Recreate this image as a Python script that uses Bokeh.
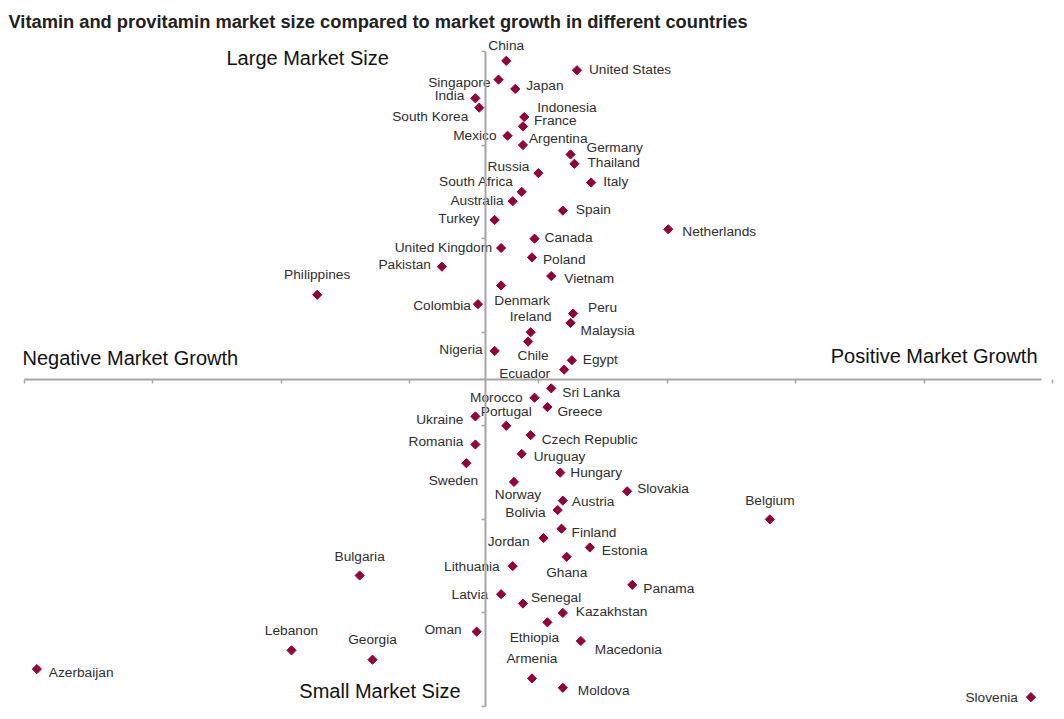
from bokeh.plotting import figure
from bokeh.models import (ColumnDataSource, Range1d, LinearAxis, FixedTicker, Label)
from bokeh.core.properties import value
from bokeh.embed import file_html
from bokeh.resources import INLINE

# ---------------------------------------------------------------- data
countries = [
    "China", "United States", "Singapore", "Japan", "India", "South Korea",
    "Indonesia", "France", "Mexico", "Argentina", "Germany", "Thailand",
    "Russia", "Italy", "South Africa", "Australia", "Spain", "Turkey",
    "Netherlands", "Canada", "United Kingdom", "Poland", "Pakistan", "Vietnam",
    "Denmark", "Philippines", "Colombia", "Peru", "Malaysia", "Ireland",
    "Chile", "Nigeria", "Egypt", "Ecuador",
    "Sri Lanka", "Morocco", "Greece", "Ukraine", "Portugal", "Czech Republic",
    "Romania", "Uruguay", "Sweden", "Hungary", "Norway", "Slovakia",
    "Austria", "Bolivia", "Belgium", "Finland", "Jordan", "Estonia",
    "Ghana", "Lithuania", "Bulgaria", "Panama", "Latvia", "Senegal",
    "Kazakhstan", "Ethiopia", "Oman", "Macedonia", "Lebanon", "Georgia",
    "Azerbaijan", "Armenia", "Moldova", "Slovenia",
]

# market growth (horizontal scale, tick every 1.0)
market_growth = [
    3.75, 4.30, 3.69, 3.82, 3.51, 3.54,
    3.89, 3.88, 3.76, 3.88, 4.25, 4.28,
    4.00, 4.41, 3.87, 3.80, 4.19, 3.66,
    5.01, 3.97, 3.71, 3.95, 3.25, 4.10,
    3.71, 2.28, 3.53, 4.27, 4.25, 3.94,
    3.92, 3.66, 4.26, 4.20,
    4.10, 3.97, 4.07, 3.51, 3.75, 3.94,
    3.51, 3.87, 3.44, 4.17, 3.81, 4.69,
    4.19, 4.15, 5.80, 4.18, 4.04, 4.40,
    4.22, 3.80, 2.61, 4.73, 3.71, 3.88,
    4.19, 4.07, 3.52, 4.33, 2.08, 2.71,
    0.10, 3.95, 4.19, 7.83,
]

# market size (vertical scale, tick every 1.0)
market_size = [
    6.9, 6.8, 6.7, 6.6, 6.5, 6.4,
    6.3, 6.2, 6.1, 6.0, 5.9, 5.8,
    5.7, 5.6, 5.5, 5.4, 5.3, 5.2,
    5.1, 5.0, 4.9, 4.8, 4.7, 4.6,
    4.5, 4.4, 4.3, 4.2, 4.1, 4.0,
    3.9, 3.8, 3.7, 3.6,
    3.4, 3.3, 3.2, 3.1, 3.0, 2.9,
    2.8, 2.7, 2.6, 2.5, 2.4, 2.3,
    2.2, 2.1, 2.0, 1.9, 1.8, 1.7,
    1.6, 1.5, 1.4, 1.3, 1.2, 1.1,
    1.0, 0.9, 0.8, 0.7, 0.6, 0.5,
    0.4, 0.3, 0.2, 0.1,
]

growth_ticks = [0, 1, 2, 3, 4, 5, 6, 7, 8]
size_ticks = [0, 1, 2, 3, 4, 5, 6, 7]
growth_crossing = 3.59   # where the size axis crosses the growth axis
size_crossing = 3.5      # where the growth axis crosses the size axis
growth_axis_end = 7.91

title_text = "Vitamin and provitamin market size compared to market growth in different countries"
quadrant_texts = ["Large Market Size", "Negative Market Growth",
                  "Positive Market Growth", "Small Market Size"]

# ------------------------------------------------------------- layout
W, H = 1064, 719
PX_X0, PX_PER_X = 23.5, 128.6     # canvas x of growth 0, pixels per unit
PY_Y0, PX_PER_Y = 706.0, 93.57    # canvas y of size 0, pixels per unit


def gx(px):
    return (px - PX_X0) / PX_PER_X


def gy(py):
    return (PY_Y0 - py) / PX_PER_Y


# label placement: (align, dx, dy) in screen pixels relative to the marker
placement = {
    "China": ("center", 0, -14), "United States": ("left", 12, 0),
    "Singapore": ("right", -8, 4), "Japan": ("left", 11, -2),
    "India": ("right", -11, -2), "South Korea": ("right", -11, 10),
    "Indonesia": ("left", 13, -9), "France": ("left", 11, -5),
    "Mexico": ("right", -11, 1), "Argentina": ("left", 6, -6),
    "Germany": ("left", 16, -6), "Thailand": ("left", 13, 0),
    "Russia": ("right", -9, -6), "Italy": ("left", 12, 0),
    "South Africa": ("right", -8, -9), "Australia": ("right", -9, 0),
    "Spain": ("left", 13, 0), "Turkey": ("right", -15, 0),
    "Netherlands": ("left", 14, 3), "Canada": ("left", 10, 0),
    "United Kingdom": ("right", -9, 0), "Poland": ("left", 11, 3),
    "Pakistan": ("right", -11, -1), "Vietnam": ("left", 13, 3),
    "Denmark": ("center", 21, 16), "Philippines": ("center", 0, -19),
    "Colombia": ("right", -7, 2), "Peru": ("left", 15, -5),
    "Malaysia": ("left", 10, 9), "Ireland": ("center", 0, -15),
    "Chile": ("center", 5, 15), "Nigeria": ("right", -12, 0),
    "Egypt": ("left", 11, 0), "Ecuador": ("right", -14, 5),
    "Sri Lanka": ("left", 11, 5), "Morocco": ("right", -12, 1),
    "Greece": ("left", 10, 5), "Ukraine": ("right", -12, 4),
    "Portugal": ("center", 0, -13), "Czech Republic": ("left", 11, 5),
    "Romania": ("right", -12, -2), "Uruguay": ("left", 12, 4),
    "Sweden": ("center", -13, 18), "Hungary": ("left", 10, 1),
    "Norway": ("center", 4, 14), "Slovakia": ("left", 10, -2),
    "Austria": ("left", 9, 2), "Bolivia": ("right", -12, 3),
    "Belgium": ("center", 0, -18), "Finland": ("left", 10, 5),
    "Jordan": ("right", -14, 4), "Estonia": ("left", 12, 4),
    "Ghana": ("center", 0, 17), "Lithuania": ("right", -13, 1),
    "Bulgaria": ("center", 0, -18), "Panama": ("left", 11, 5),
    "Latvia": ("right", -13, 1), "Senegal": ("left", 8, -5),
    "Kazakhstan": ("left", 13, 0), "Ethiopia": ("center", -13, 16),
    "Oman": ("right", -15, -1), "Macedonia": ("left", 14, 9),
    "Lebanon": ("center", 0, -19), "Georgia": ("center", 0, -19),
    "Azerbaijan": ("left", 12, 4), "Armenia": ("center", 0, -19),
    "Moldova": ("left", 15, 4), "Slovenia": ("right", -13, 1),
}

FONT = "Liberation Sans"
MARKER_COLOR = "#960039"
LABEL_COLOR = "#2e2e2e"
AXIS_COLOR = "#a6a6a6"

source = ColumnDataSource(dict(
    growth=market_growth,
    size=market_size,
    name=countries,
    align=[placement[c][0] for c in countries],
    dx=[placement[c][1] for c in countries],
    dy=[placement[c][2] - 1 for c in countries],
))

p = figure(width=W, height=H,
           x_range=Range1d(gx(0), gx(W)), y_range=Range1d(gy(H), gy(0)),
           x_axis_type=None, y_axis_type=None,
           toolbar_location=None, output_backend="svg",
           min_border=0, outline_line_color=None,
           background_fill_color="white", border_fill_color="white")

# crossing axes
growth_axis = LinearAxis(fixed_location=size_crossing,
                         bounds=(growth_ticks[0], growth_axis_end),
                         ticker=FixedTicker(ticks=growth_ticks),
                         major_label_overrides={t: "" for t in growth_ticks})
size_axis = LinearAxis(fixed_location=growth_crossing,
                       bounds=(size_ticks[0], size_ticks[-1]),
                       ticker=FixedTicker(ticks=size_ticks),
                       major_label_overrides={t: "" for t in size_ticks})
for ax in (growth_axis, size_axis):
    ax.axis_line_color = AXIS_COLOR
    ax.axis_line_width = 2
    ax.major_tick_line_color = AXIS_COLOR
    ax.major_tick_line_width = 1.5
    ax.major_tick_in = 0
    ax.major_tick_out = 4
    ax.minor_tick_line_color = None
    ax.major_label_text_font_size = "1px"
    ax.major_label_text_color = None
p.add_layout(growth_axis, "below")
p.add_layout(size_axis, "left")

# countries
p.scatter("growth", "size", source=source, marker="square", angle=0.785398,
          size=6.5, fill_color=MARKER_COLOR, line_color=MARKER_COLOR)

p.text("growth", "size", text="name", source=source,
       x_offset="dx", y_offset="dy", text_align="align",
       text_baseline="middle", text_font=value(FONT),
       text_font_size="13.7px", text_color=LABEL_COLOR)

# quadrant captions
quad_pos = [(226, 57, "left"), (22, 357.5, "left"), (1037, 355.5, "right"), (460, 690, "right")]
for txt, (px, py, al) in zip(quadrant_texts, quad_pos):
    p.add_layout(Label(x=gx(px), y=gy(py), text=txt, text_align=al,
                       text_baseline="middle", text_font=FONT,
                       text_font_size="20px", text_color="#111111"))

# title
p.add_layout(Label(x=gx(8), y=gy(21), text=title_text, text_align="left",
                   text_baseline="middle", text_font=FONT,
                   text_font_size="18.3px", text_font_style="bold",
                   text_color="#222222"))

open("out.html", "w").write(file_html(p, INLINE))
